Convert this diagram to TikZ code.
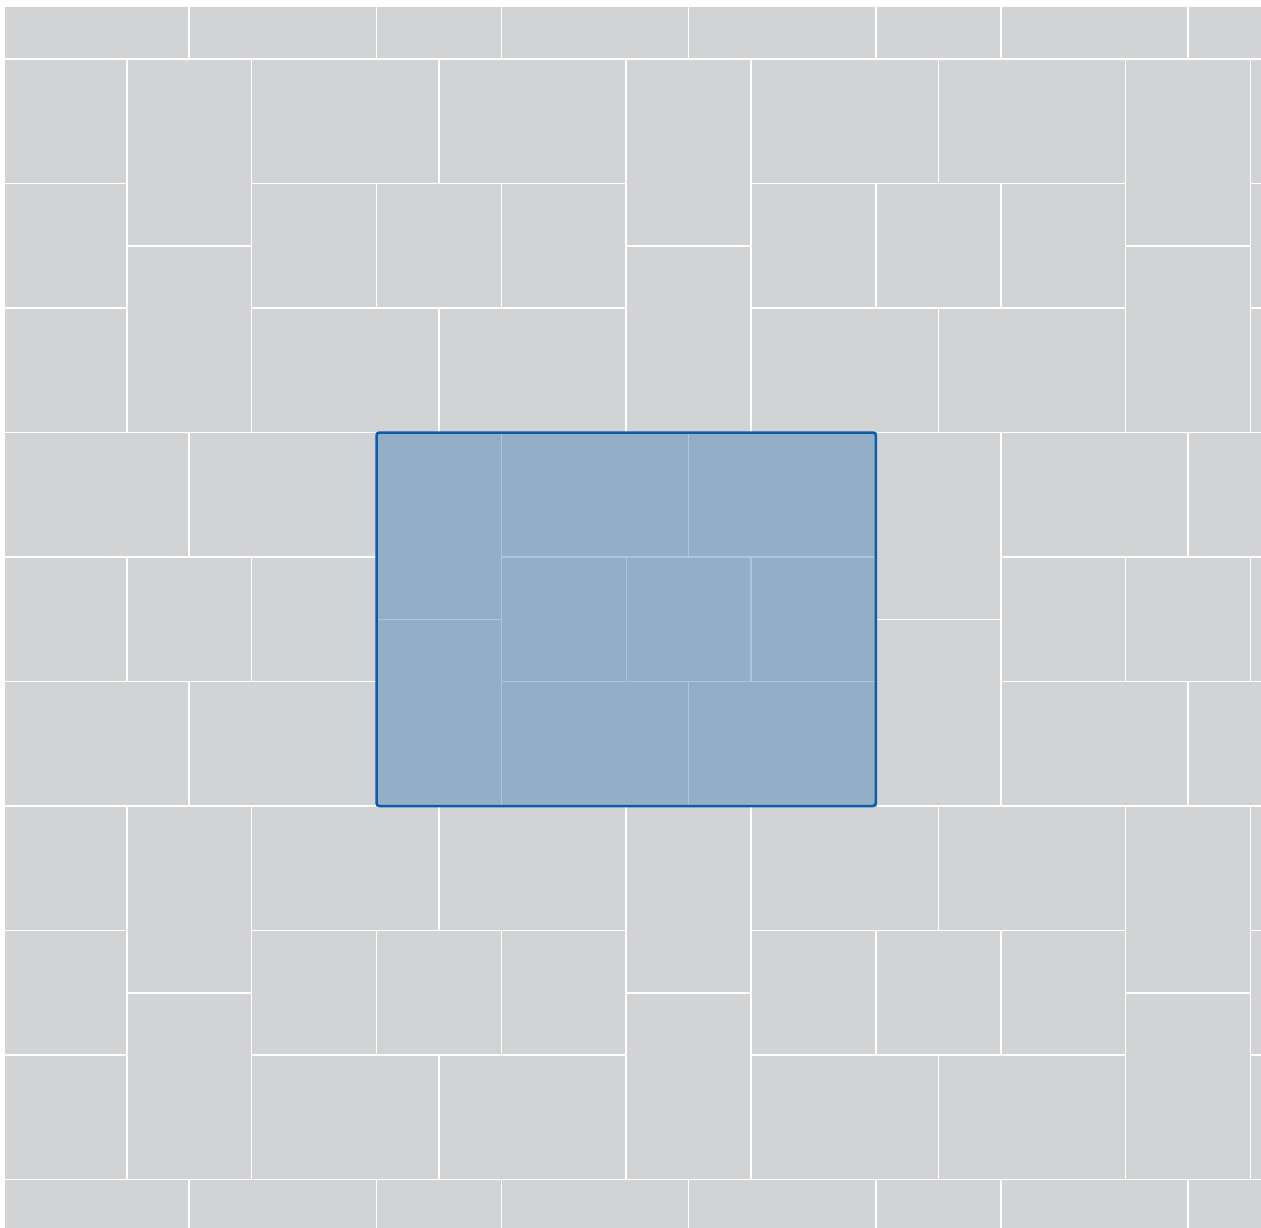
\documentclass[tikz,border=0pt]{standalone}
\definecolor{tilegray}{HTML}{D1D3D5}
\definecolor{tileblue}{HTML}{93AFC8}
\definecolor{seamblue}{HTML}{ABC5DC}
\definecolor{outlineblue}{HTML}{0B5CAD}
\newcommand\tileblock[1]{%
  \draw[#1] (0,0) rectangle (1,1.5);
  \draw[#1] (0,1.5) rectangle (1,3);
  \draw[#1] (1,0) rectangle (2.5,1);
  \draw[#1] (2.5,0) rectangle (4,1);
  \draw[#1] (1,1) rectangle (2,2);
  \draw[#1] (2,1) rectangle (3,2);
  \draw[#1] (3,1) rectangle (4,2);
  \draw[#1] (1,2) rectangle (2.5,3);
  \draw[#1] (2.5,2) rectangle (4,3);
}
\begin{document}
\begin{tikzpicture}[x=0.5pt,y=-0.5pt,
  tile/.style={fill=tilegray,draw=white,line width=0.75pt},
  btile/.style={fill=tileblue,draw=seamblue,line width=0.7pt},
  frame/.style={draw=outlineblue,line width=1.25pt,rounded corners=1.5pt}]
\useasboundingbox (0,0) rectangle (1261,1227);
\fill[white] (0,0) rectangle (1261,1227);
\begin{scope}
  \clip (5,7) rectangle (1261,1227);
  \foreach \j in {-2,...,2}{
    \foreach \i in {-3,...,3}{
      \pgfmathsetmacro\ox{376.5+124.85*(4*\i+2*\j)}
      \pgfmathsetmacro\oy{432.5+124.5*3*\j}
      \begin{scope}[shift={(\ox,\oy)}]
        \begin{scope}[x=62.425pt,y=-62.25pt]
          \tileblock{tile}
        \end{scope}
      \end{scope}
    }
  }
  \begin{scope}[shift={(376.5,432.5)}]
    \begin{scope}[x=62.425pt,y=-62.25pt]
      \tileblock{btile}
      \draw[frame] (0,0) rectangle (4,3);
      \node[inner sep=0pt,minimum size=0pt] (blueblock) at (2,1.5) {};
    \end{scope}
  \end{scope}
\end{scope}
\end{tikzpicture}
\end{document}
